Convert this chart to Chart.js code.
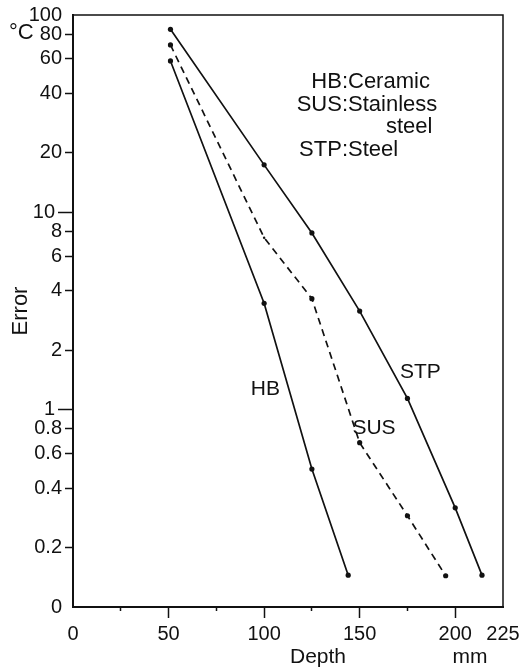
<!DOCTYPE html>
<html><head><meta charset="utf-8">
<script src="https://cdn.jsdelivr.net/npm/chart.js@4"></script>
<style>html,body{margin:0;padding:0;background:#fff}canvas{display:block}</style>
</head><body>
<canvas id="c" width="527" height="668"></canvas>
<script>
// ---- data ----
const depthHB  = [51, 100, 125, 144];
const errorHB  = [58.5, 3.46, 0.50, 0.145];
const depthSUS = [51, 100, 125, 150, 175, 195];
const errorSUS = [70.5, 7.44, 3.65, 0.68, 0.29, 0.144];
const depthSTP = [51, 100, 125, 150, 175, 200, 214];
const errorSTP = [84.6, 17.4, 7.86, 3.16, 1.14, 0.318, 0.145];

const yTickValues   = [0.1, 0.2, 0.4, 0.6, 0.8, 2, 4, 6, 8, 20, 40, 60, 80, 100];
const yTickLabels   = ['0', '0.2', '0.4', '0.6', '0.8', '2', '4', '6', '8', '20', '40', '60', '80', '100'];
const yDecadeValues = [1, 10];
const yDecadeLabels = ['1', '10'];
const xTickValues   = [0, 50, 100, 150, 200, 225];
const xTickLabels   = ['0', '50', '100', '150', '200', '225'];
const xMinorValues  = [25, 75, 125, 175];

const seriesNames = ['HB', 'SUS', 'STP'];
const legendRows  = [['HB', 'Ceramic'], ['SUS', 'Stainless'], ['', 'steel'], ['STP', 'Steel']];
const curveLabelAt = [[100.7, 1.27], [157.5, 0.805], [181.8, 1.545]]; // data coords for HB, SUS, STP labels
const yTitle = 'Error', xTitle = 'Depth', xUnit = 'mm', yUnit = '°C';

const FONT = '"Liberation Sans", Arial, sans-serif';
Chart.defaults.font.family = FONT;
Chart.defaults.color = '#111';

function mk(label, xs, ys, dash, radius) {
  return {
    label, data: xs.map((x, i) => ({x, y: ys[i]})),
    borderColor: '#111', backgroundColor: '#111', borderWidth: 1.7,
    borderDash: dash, pointRadius: radius, pointBorderWidth: 0,
    pointHoverRadius: radius, tension: 0, fill: false, xAxisID: 'x', yAxisID: 'y'
  };
}

const transparentAt = (vals) => (c) => (c.tick && vals.includes(c.tick.value)) ? 'rgba(0,0,0,0)' : '#111';

const annot = {
  id: 'annot',
  afterDraw(chart) {
    const {ctx, chartArea: a, scales} = chart;
    ctx.save();
    // frame top & right
    ctx.strokeStyle = '#111'; ctx.lineWidth = 1.5;
    ctx.beginPath(); ctx.moveTo(a.left, a.top); ctx.lineTo(a.right, a.top); ctx.lineTo(a.right, a.bottom); ctx.stroke();
    ctx.fillStyle = '#111';
    ctx.textBaseline = 'middle';
    // key text
    ctx.font = '22px ' + FONT;
    const rowY = [82, 105, 127, 150];
    legendRows.forEach((r, i) => {
      if (r[0]) { ctx.textAlign = 'right'; ctx.fillText(r[0] + ':', 348, rowY[i]); }
      ctx.textAlign = 'left';
      ctx.fillText(r[1], r[0] ? 348 : 386, rowY[i]);
    });
    // curve labels
    ctx.font = '21px ' + FONT; ctx.textAlign = 'center';
    seriesNames.forEach((n, i) => {
      ctx.fillText(n, scales.x.getPixelForValue(curveLabelAt[i][0]), scales.y.getPixelForValue(curveLabelAt[i][1]));
    });
    // x title & unit
    ctx.font = '21px ' + FONT;
    ctx.fillText(xTitle, 318, 657);
    ctx.fillText(xUnit, 470, 657);
    // unit at top-left
    ctx.textAlign = 'left';
    ctx.font = '22px ' + FONT;
    ctx.fillText(yUnit, 9, 33);
    ctx.restore();
  }
};

new Chart(document.getElementById('c'), {
  type: 'line',
  data: {
    datasets: [
      mk(seriesNames[0], depthHB, errorHB, [], 2.6),
      mk(seriesNames[1], depthSUS, errorSUS, [7, 5], [2.6, 1.2, 2.6, 2.6, 2.6, 2.6]),
      mk(seriesNames[2], depthSTP, errorSTP, [], 2.6)
    ]
  },
  options: {
    responsive: false, animation: false, devicePixelRatio: 1,
    layout: {padding: {top: 14, right: 24, left: 0, bottom: 0}},
    plugins: {legend: {display: false}, tooltip: {enabled: false}},
    scales: {
      x: {
        type: 'linear', position: 'bottom', min: 0, max: 225, weight: 10,
        afterFit(s) { s.height = 61; },
        afterBuildTicks(s) { s.ticks = xTickValues.map(v => ({value: v})); },
        ticks: {autoSkip: false, maxRotation: 0, padding: 4, font: {size: 20}, color: '#111',
                callback: (v, i) => xTickLabels[i]},
        grid: {drawOnChartArea: false, drawTicks: true, tickLength: 11, tickWidth: 1.5,
               tickColor: transparentAt([0, 225])},
        border: {display: true, color: '#111', width: 2}
      },
      xMinor: {
        type: 'linear', position: 'bottom', min: 0, max: 225, weight: 0,
        afterFit(s) { s.height = 0; },
        afterBuildTicks(s) { s.ticks = xMinorValues.map(v => ({value: v})); },
        ticks: {display: false},
        grid: {drawOnChartArea: false, drawTicks: true, tickLength: 4, tickWidth: 1.5, tickColor: '#111'},
        border: {display: false}
      },
      y: {
        type: 'logarithmic', position: 'left', min: 0.1, max: 100, weight: 10,
        afterFit(s) { s.width = 73; },
        afterBuildTicks(s) { s.ticks = yTickValues.map(v => ({value: v})); },
        ticks: {autoSkip: false, padding: 3, font: {size: 20}, color: '#111',
                callback: (v, i) => yTickLabels[i]},
        grid: {drawOnChartArea: false, drawTicks: true, tickLength: 8, tickWidth: 1.5,
               tickColor: transparentAt([0.1, 100])},
        border: {display: true, color: '#111', width: 2},
        title: {display: true, text: yTitle, font: {size: 22}, color: '#111', padding: {top: 8, bottom: 0}}
      },
      yDec: {
        type: 'logarithmic', position: 'left', min: 0.1, max: 100, weight: 0,
        afterFit(s) { s.width = 0; s._computeLabelArea = () => undefined; },
        afterBuildTicks(s) { s.ticks = yDecadeValues.map(v => ({value: v})); },
        ticks: {autoSkip: false, padding: 3, font: {size: 20}, color: '#111',
                callback: (v, i) => yDecadeLabels[i]},
        grid: {drawOnChartArea: false, drawTicks: true, tickLength: 15, tickWidth: 1.5, tickColor: '#111'},
        border: {display: false}
      }
    }
  },
  plugins: [annot]
});
</script>
</body></html>
